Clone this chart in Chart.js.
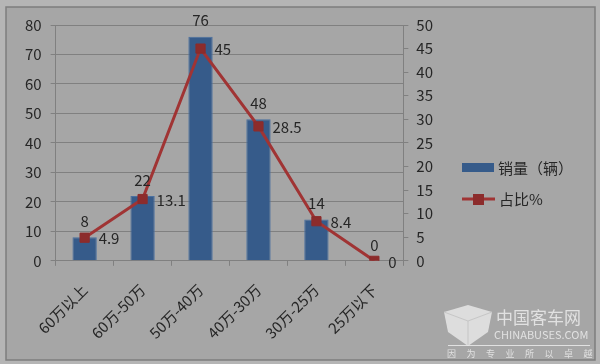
<!DOCTYPE html>
<html>
<head>
<meta charset="utf-8">
<script src="https://cdn.jsdelivr.net/npm/chart.js@4/dist/chart.umd.min.js"></script>
<style>
  html, body { margin: 0; padding: 0; background: #b5b5b5; }
  #wrap { width: 600px; height: 364px; }
</style>
</head>
<body>
<div id="wrap"><canvas id="priceChart" width="600" height="364"></canvas></div>
<script>
// price bands and figures
const categories = ['60万以上', '60万-50万', '50万-40万', '40万-30万', '30万-25万', '25万以下'];
const salesVolume = [8, 22, 76, 48, 14, 0];
const sharePercent = [4.9, 13.1, 45, 28.5, 8.4, 0];
const salesLabel = '销量（辆）';
const shareLabel = '占比%';
const leftAxis = { min: 0, max: 80, step: 10 };
const rightAxis = { min: 0, max: 50, step: 5 };

const FONT = "'Noto Sans CJK SC', 'Noto Sans', sans-serif";
const TEXT = '#262626';
const BAR_COLOR = '#365b8a';
const LINE_COLOR = '#a03434';
const MARK_COLOR = '#8c2c2c';

// grey frame behind the chart
const frame = {
  id: 'frame',
  beforeDraw(chart) {
    const c = chart.ctx;
    c.save();
    c.fillStyle = '#b5b5b5';
    c.fillRect(0, 0, chart.width, chart.height);
    c.fillStyle = '#a6a6a6';
    c.fillRect(6, 7, 589, 353);
    c.strokeStyle = '#7d7d7d';
    c.lineWidth = 1.5;
    c.strokeRect(6, 7, 589, 353);
    c.restore();
  }
};

// value labels: above the bars, right of the line points
const valueLabels = {
  id: 'valueLabels',
  afterDatasetsDraw(chart) {
    const c = chart.ctx;
    c.save();
    c.font = '15px ' + FONT;
    c.fillStyle = TEXT;
    c.textBaseline = 'middle';
    chart.getDatasetMeta(0).data.forEach((el, i) => {
      c.textAlign = 'center';
      c.fillText(String(salesVolume[i]), el.x, el.y - 16);
    });
    chart.getDatasetMeta(1).data.forEach((el, i) => {
      c.textAlign = 'left';
      c.fillText(String(sharePercent[i]), el.x + 14, el.y + 1);
    });
    c.restore();
  }
};

// legend on the right, line entry with its square marker
const sideLegend = {
  id: 'sideLegend',
  afterDraw(chart) {
    const c = chart.ctx;
    const ds = chart.data.datasets;
    c.save();
    c.font = '15px ' + FONT;
    c.textBaseline = 'middle';
    c.textAlign = 'left';

    c.fillStyle = ds[0].backgroundColor;
    c.fillRect(462, 163, 32, 9);
    c.fillStyle = TEXT;
    c.fillText(ds[0].label, 498, 168);

    c.strokeStyle = ds[1].borderColor;
    c.lineWidth = 3;
    c.beginPath();
    c.moveTo(462, 199);
    c.lineTo(495, 199);
    c.stroke();
    c.fillStyle = ds[1].pointBackgroundColor;
    c.fillRect(473, 194, 11, 11);
    c.fillStyle = TEXT;
    c.fillText(ds[1].label, 499, 199);
    c.restore();
  }
};

// site watermark, bottom right
const watermark = {
  id: 'watermark',
  afterDraw(chart) {
    const c = chart.ctx;
    c.save();
    c.fillStyle = 'rgba(235,235,235,0.8)';
    c.beginPath();
    c.moveTo(444, 312); c.lineTo(468, 305); c.lineTo(492, 312);
    c.lineTo(488, 332); c.lineTo(468, 346); c.lineTo(448, 332);
    c.closePath();
    c.fill();
    c.strokeStyle = 'rgba(195,195,195,0.9)';
    c.lineWidth = 1;
    c.beginPath();
    c.moveTo(444, 312); c.lineTo(468, 321); c.lineTo(492, 312);
    c.moveTo(468, 321); c.lineTo(468, 346);
    c.stroke();

    c.fillStyle = 'rgba(235,235,235,0.85)';
    c.textBaseline = 'middle';
    c.textAlign = 'left';
    c.font = '17px ' + FONT;
    c.fillText('中国客车网', 496, 318);
    c.font = '11px ' + FONT;
    c.fillText('CHINABUSES.COM', 494, 335);
    c.fillRect(448, 345, 142, 1);
    c.font = '9px ' + FONT;
    const motto = '因为专业所以卓越';
    for (let i = 0; i < motto.length; i++) {
      c.fillText(motto[i], 447 + i * 19.5, 354);
    }
    c.restore();
  }
};

const ctx = document.getElementById('priceChart').getContext('2d');
const priceChart = new Chart(ctx, {
  data: {
    labels: categories,
    datasets: [{
      type: 'bar',
      label: salesLabel,
      data: salesVolume,
      yAxisID: 'y',
      backgroundColor: BAR_COLOR,
      borderColor: '#4a70a0',
      borderWidth: 1,
      barPercentage: 0.42,
      categoryPercentage: 1,
      order: 2
    }, {
      type: 'line',
      label: shareLabel,
      data: sharePercent,
      yAxisID: 'y1',
      borderColor: LINE_COLOR,
      borderWidth: 3,
      pointStyle: 'rect',
      pointRadius: 6.5,
      pointBackgroundColor: MARK_COLOR,
      pointBorderColor: MARK_COLOR,
      pointBorderWidth: 1,
      tension: 0,
      order: 1
    }]
  },
  options: {
    responsive: false,
    animation: false,
    layout: {
      padding: { left: 16, right: 159, top: 25, bottom: 7 }
    },
    scales: {
      x: {
        grid: {
          drawOnChartArea: false,
          color: '#808080',
          tickLength: 5,
          offset: true
        },
        border: { color: '#808080' },
        ticks: {
          color: TEXT,
          font: { family: FONT, size: 15 },
          minRotation: 45,
          maxRotation: 45,
          padding: 15
        }
      },
      y: {
        position: 'left',
        min: leftAxis.min,
        max: leftAxis.max,
        grid: { color: '#808080', tickLength: 5 },
        border: { color: '#808080' },
        ticks: {
          stepSize: leftAxis.step,
          color: TEXT,
          font: { family: FONT, size: 15 },
          padding: 9
        }
      },
      y1: {
        position: 'right',
        min: rightAxis.min,
        max: rightAxis.max,
        grid: { drawOnChartArea: false, color: '#808080', tickLength: 5 },
        border: { color: '#808080' },
        ticks: {
          stepSize: rightAxis.step,
          color: TEXT,
          font: { family: FONT, size: 15 },
          padding: 8
        }
      }
    },
    plugins: {
      legend: { display: false },
      tooltip: { enabled: false }
    }
  },
  plugins: [frame, valueLabels, sideLegend, watermark]
});
</script>
</body>
</html>
